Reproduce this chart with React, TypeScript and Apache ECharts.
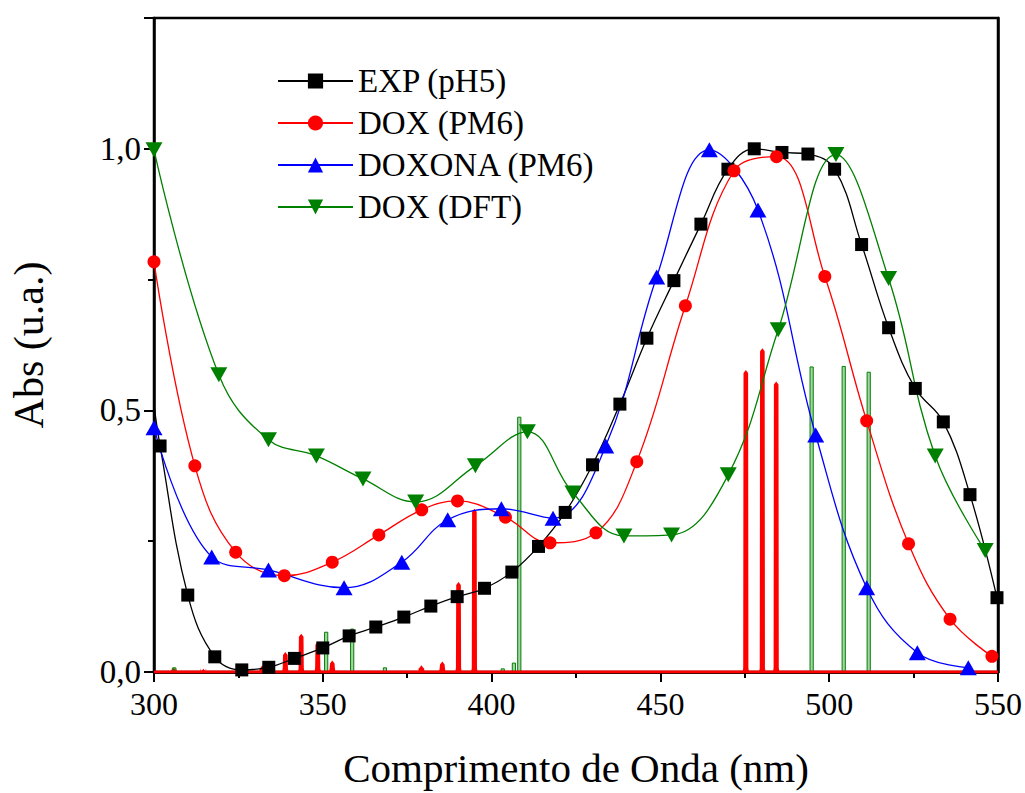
import React, { useEffect, useRef } from "react";
import * as echarts from "echarts";

const FONT = "Liberation Serif";

const xTicks = [300, 350, 400, 450, 500, 550];
const yTickLabels = ["0,0", "0,5", "1,0"];

const expData: [number, number][] = [
  [300, 0.51], [301.8, 0.432], [310, 0.147], [318, 0.029], [326, 0.004], [334, 0.009],
  [341.6, 0.026], [350, 0.046], [357.8, 0.069], [365.7, 0.086], [374, 0.105],
  [382, 0.126], [389.8, 0.144], [397.9, 0.160], [406, 0.191], [413.9, 0.240],
  [421.8, 0.305], [429.9, 0.396], [438, 0.512], [446, 0.638], [454, 0.748],
  [462, 0.856], [470, 0.961], [477.8, 1.0], [486, 0.993], [493.7, 0.990],
  [501.6, 0.961], [509.6, 0.817], [517.6, 0.658], [525.5, 0.542], [533.8, 0.478],
  [541.7, 0.339], [549.7, 0.142],
];

const doxPm6Data: [number, number][] = [
  [300, 0.784], [312.1, 0.394], [324.2, 0.229], [338.6, 0.184], [352.8, 0.210],
  [366.6, 0.262], [379.3, 0.310], [389.9, 0.327], [404.1, 0.296], [417.3, 0.247],
  [430.9, 0.266], [443.0, 0.402], [457.4, 0.700], [471.8, 0.958], [484.4, 0.985],
  [498.7, 0.756], [511.1, 0.480], [523.5, 0.245], [535.8, 0.101], [548.2, 0.030],
];

const doxonaData: [number, number][] = [
  [300, 0.467], [317.1, 0.220], [333.9, 0.195], [356.3, 0.161], [373.4, 0.210],
  [387.0, 0.291], [402.9, 0.312], [418.2, 0.294], [433.8, 0.432], [448.9, 0.755],
  [464.5, 0.998], [478.9, 0.883], [496.0, 0.453], [511.1, 0.161], [526.1, 0.037],
  [541.2, 0.008],
];

const doxDftData: [number, number][] = [
  [300, 0.998], [319.2, 0.568], [333.9, 0.444], [348.1, 0.413], [361.9, 0.369],
  [377.5, 0.325], [395.2, 0.394], [410.6, 0.459], [424.1, 0.342], [439.2, 0.260],
  [453.3, 0.262], [470.1, 0.377], [484.9, 0.654], [502.0, 0.989], [517.6, 0.752],
  [531.4, 0.413], [546.2, 0.232],
];

const redSticks: [number, number][] = [
  [305.9, 0.008], [314.6, 0.006], [332.1, 0.013], [338.9, 0.038], [343.6, 0.073],
  [348.5, 0.058], [352.8, 0.022], [379.2, 0.013], [385.4, 0.020], [390.2, 0.172],
  [394.9, 0.312], [475.3, 0.577], [480.2, 0.619], [484.3, 0.555],
];

const greenSticks: [number, number][] = [
  [306.0, 0.008], [351.0, 0.076], [358.7, 0.082], [368.4, 0.008], [403.3, 0.006],
  [406.6, 0.017], [408.2, 0.487], [494.8, 0.583], [504.3, 0.584], [511.7, 0.573],
];

const baseline: [number, number][] = [[300, 0], [550, 0]];

const seriesNames = ["EXP (pH5)", "DOX (PM6)", "DOXONA (PM6)", "DOX (DFT)"];

export default function App() {
  const ref = useRef<HTMLDivElement>(null);

  useEffect(() => {
    if (!ref.current) return;
    const chart = echarts.init(ref.current, undefined, { renderer: "svg" });

    const lineSeries = (
      name: string,
      data: any[],
      color: string,
      symbol: string,
      size: any,
      rotate = 0
    ) => ({
      name,
      type: "line",
      data,
      smooth: 0.4,
      symbol,
      symbolSize: size,
      symbolRotate: rotate,
      showAllSymbol: true,
      lineStyle: { color, width: 1.3 },
      itemStyle: { color, borderWidth: 0 },
      z: 5,
    });

    const expSeriesData = expData.map((p, i) =>
      i === 0 ? { value: p, symbol: "none" } : { value: p }
    );

    const stickRender = (kind: "red" | "green") => (params: any, api: any) => {
      const x = api.value(0);
      const h = api.value(1);
      const top = api.coord([x, h]);
      const base = api.coord([x, 0]);
      if (kind === "red") {
        return {
          type: "polygon",
          shape: {
            points: [
              [top[0] - 3.2, base[1]],
              [top[0] - 2.6, base[1] - 4],
              [top[0] - 2.3, top[1] + 3],
              [top[0], top[1]],
              [top[0] + 2.3, top[1] + 3],
              [top[0] + 2.6, base[1] - 4],
              [top[0] + 3.2, base[1]],
            ],
          },
          style: { fill: "#ff0000" },
        };
      }
      return {
        type: "rect",
        shape: { x: top[0] - 1.6, y: top[1], width: 3.2, height: base[1] - top[1] },
        style: { fill: "rgba(0,128,0,0.35)", stroke: "#008000", lineWidth: 1 },
      };
    };

    const option: any = {
      animation: false,
      backgroundColor: "#ffffff",
      grid: {
        left: 152,
        right: 25,
        top: 18,
        bottom: 121,
        show: true,
        borderColor: "#000",
        borderWidth: 2.5,
        backgroundColor: "transparent",
      },
      legend: {
        orient: "vertical",
        left: 272,
        top: 55,
        itemWidth: 75,
        itemHeight: 19,
        itemGap: 0,
        data: seriesNames,
        textStyle: {
          fontFamily: FONT,
          fontSize: 33,
          color: "#000",
          lineHeight: 42,
        },
      },
      xAxis: [
        {
          type: "value",
          min: 300,
          max: 550,
          interval: 50,
          name: "Comprimento de Onda (nm)",
          nameLocation: "middle",
          nameGap: 75,
          nameTextStyle: { fontFamily: FONT, fontSize: 41, color: "#000" },
          axisLine: { show: true, lineStyle: { color: "#000", width: 2.5 } },
          axisTick: { show: true, inside: false, length: 10, lineStyle: { width: 2, color: "#000" } },
          minorTick: { show: true, splitNumber: 2, length: 6, lineStyle: { width: 2, color: "#000" } },
          axisLabel: {
            margin: 16,
            fontFamily: FONT,
            fontSize: 32,
            color: "#000",
            formatter: (v: number) => (xTicks.includes(v) ? String(v) : ""),
          },
          splitLine: { show: false },
        },
        {
          type: "value",
          position: "top",
          min: 300,
          max: 550,
          interval: 50,
          axisLine: { show: true, lineStyle: { color: "#000", width: 2.5 } },
          axisTick: { show: true, inside: true, length: 4, lineStyle: { width: 1, color: "#000" } },
          axisLabel: { show: false },
          splitLine: { show: false },
        },
      ],
      yAxis: [
        {
          type: "value",
          min: 0,
          max: 1.25,
          interval: 0.5,
          name: "Abs (u.a.)",
          nameLocation: "middle",
          nameGap: 104,
          nameRotate: 90,
          nameTextStyle: { fontFamily: FONT, fontSize: 42, color: "#000" },
          axisLine: { show: true, lineStyle: { color: "#000", width: 2.5 } },
          axisTick: { show: true, inside: false, length: 10, lineStyle: { width: 2, color: "#000" } },
          minorTick: { show: true, splitNumber: 2, length: 6, lineStyle: { width: 2, color: "#000" } },
          axisLabel: {
            margin: 13,
            fontFamily: FONT,
            fontSize: 33,
            color: "#000",
            formatter: (v: number) => {
              const i = Math.round(v / 0.5);
              return Math.abs(v - i * 0.5) < 1e-6 && i < yTickLabels.length ? yTickLabels[i] : "";
            },
          },
          splitLine: { show: false },
        },
        {
          type: "value",
          position: "right",
          min: 0,
          max: 1.25,
          interval: 0.5,
          axisLine: { show: true, lineStyle: { color: "#000", width: 2.5 } },
          axisTick: { show: false },
          axisLabel: { show: false },
          splitLine: { show: false },
        },
      ],
      series: [
        { name: "red-sticks", type: "custom", data: redSticks, encode: { x: 0, y: 1 }, renderItem: stickRender("red"), z: 2 },
        { name: "green-sticks", type: "custom", data: greenSticks, encode: { x: 0, y: 1 }, renderItem: stickRender("green"), z: 2 },
        { name: "baseline", type: "line", data: baseline, symbol: "none", lineStyle: { color: "#ff0000", width: 3 }, z: 3 },
        lineSeries(seriesNames[0], expSeriesData, "#000000", "rect", 13),
        lineSeries(seriesNames[1], doxPm6Data, "#ff0000", "circle", 13),
        lineSeries(seriesNames[2], doxonaData, "#0000ff", "triangle", [17, 15]),
        lineSeries(seriesNames[3], doxDftData, "#008000", "triangle", [17, 15], 180),
      ],
    };

    chart.setOption(option);
    return () => chart.dispose();
  }, []);

  return (
    <div
      ref={ref}
      style={{ position: "fixed", left: 0, top: 0, width: 1025, height: 793, background: "#fff" }}
    />
  );
}
